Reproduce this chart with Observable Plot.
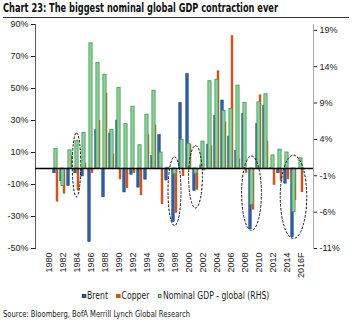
<!DOCTYPE html>
<html><head><meta charset="utf-8">
<script src="https://cdn.jsdelivr.net/npm/d3@7"></script>
<script src="https://cdn.jsdelivr.net/npm/@observablehq/plot@0.6"></script>
<style>
html,body{margin:0;padding:0;background:#fff;}
body{width:352px;height:323px;position:relative;overflow:hidden;font-family:"Liberation Sans Narrow","Arial Narrow","DejaVu Sans Condensed","DejaVu Sans",sans-serif;font-stretch:condensed;color:#222;}
#title{position:absolute;left:3px;top:1px;font-weight:bold;font-size:12px;line-height:14px;white-space:nowrap;color:#111;transform-origin:0 0;}
#rule{position:absolute;left:3px;top:17px;width:346px;height:1px;background:#333;}
#chart{position:absolute;left:0;top:20px;}
#legend{position:absolute;left:0;top:290px;width:352px;display:flex;justify-content:center;}
#legendInner{display:flex;align-items:center;font-size:10px;line-height:12px;white-space:nowrap;transform-origin:50% 50%;}
.item{display:flex;align-items:center;margin:0 5px;}
.sw{width:4.5px;height:4.5px;margin-right:1.5px;box-sizing:border-box;}
#source{position:absolute;left:3px;top:308px;font-size:9.5px;line-height:12px;white-space:nowrap;transform-origin:0 0;}
</style></head>
<body>
<div id="title">Chart 23: The biggest nominal global GDP contraction ever</div>
<div id="rule"></div>
<div id="chart"></div>
<div id="legend"><div id="legendInner"></div></div>
<div id="source">Source: Bloomberg, BofA Merrill Lynch Global Research</div>
<script>
// categories
const years = ["1980","1981","1982","1983","1984","1985","1986","1987","1988","1989",
  "1990","1991","1992","1993","1994","1995","1996","1997","1998","1999",
  "2000","2001","2002","2003","2004","2005","2006","2007","2008","2009",
  "2010","2011","2012","2013","2014","2015","2016F"];
// Brent, % y/y (left axis)
const brent = [null,-3,-8,-11,-3,-5,-46,24,-18,22,
  30,-15,-4,-12,-7,8,21,-7.5,-33.5,41,
  59,-14,2,15,33,42.5,20,11,34,-38,
  28,39,0.4,-3,-9.5,-43,0];
// Copper, % y/y (left axis)
const copper = [null,-21,-16,8,-14,3,-3,30,47,9,
  -7,-12.5,-3,-17,21,27,-22.5,-1,-28,-5,
  15,-13.5,-1.5,14,61,29,83,6,-3,-26,
  46,17,-10.5,-8,-7,-20,-15];
// Nominal GDP - global, % y/y (right axis)
const gdp = [null,2.7,-2.4,2.5,3.8,4.9,17.2,14.5,12.9,5.3,
  11.1,6.1,8.5,3.2,7.4,10.7,2.2,0.1,-0.8,3.9,
  3.4,-0.7,3.7,12.0,12.2,7.9,8.2,11.4,9.0,-5.0,
  9.1,10.2,1.8,2.6,2.2,-6.0,1.4];
// tick labels
const leftTicks = [-50,-30,-10,10,30,50,70,90];
const rightTicks = [-11,-6,-1,4,9,14,19];
const labelYears = ["1980","1982","1984","1986","1988","1990","1992","1994","1996","1998",
  "2000","2002","2004","2006","2008","2010","2012","2014","2016F"];
// highlighted contraction episodes (dashed ellipses), extents in left-axis %
const ellYears = ["1984","1998","2001","2009","2015"];
const ellTop = [22,7,14,7.5,8];
const ellBottom = [-18,-36,-25,-39,-44];
const ellSpan = [1.2,1.8,1.9,2.7,3.6]; // width in years

const series = ["Brent","Copper","Nominal GDP - global (RHS)"];

// right axis maps onto left: -11% <-> -50%, 0 <-> 0
const k = 50/11;
const rows = years.map((y,i)=>({year:y, brent:brent[i], copper:copper[i], gdp: gdp[i]==null?null:gdp[i]*k}));
const ells = ellYears.map((y,i)=>({year:y, top:ellTop[i], bottom:ellBottom[i], span:ellSpan[i]}));

const W=352, H=265, mL=35, mR=39, mT=4, mB=37;
const bw = (W-mL-mR)/years.length;

const colors = {brent:"#2d5ea8", brentStroke:"#1c3d75", copper:"#c9571e", gdp:"#8fd19c", gdpStroke:"#3e9a52"};

const ellMarks = ells.map(e => Plot.barY([e], {
  x:"year", y1:"bottom", y2:"top",
  insetLeft: -(e.span-1)*bw/2, insetRight: -(e.span-1)*bw/2,
  rx: 60, ry: 200, fill:"none", stroke:"#111", strokeWidth:1, strokeDasharray:"2.5,1.5"
}));

const chart = Plot.plot({
  width:W, height:H, marginTop:mT, marginBottom:mB, marginLeft:mL, marginRight:mR,
  x:{type:"band", domain:years, padding:0, axis:null},
  y:{domain:[-50,90], axis:null},
  style:{fontFamily:"'Liberation Sans', Arial, sans-serif", fontSize:"9px", color:"#222", background:"white"},
  marks:[
    Plot.frame({anchor:"left", stroke:"#555"}),
    Plot.frame({anchor:"right", stroke:"#aaa"}),
    Plot.axisY(leftTicks, {anchor:"left", tickSize:4, tickPadding:3, tickFormat:d=>d+"%", label:null}),
    Plot.axisY(rightTicks.map(v=>v*k), {anchor:"right", tickSize:3, tickPadding:3, tickFormat:d=>Math.round(d/k)+"%", label:null}),
    Plot.axisX(labelYears, {anchor:"bottom", tickSize:0, tickRotate:-90, tickPadding:4, label:null}),
    Plot.barY(rows, {x:"year", y:"brent", fill:colors.brent, stroke:colors.brentStroke, strokeWidth:0.5, insetLeft:0.75, insetRight:bw/2}),
    Plot.barY(rows, {x:"year", y:"copper", fill:colors.copper, insetLeft:bw/2, insetRight:0.75}),
    Plot.barY(rows, {x:"year", y:"gdp", fill:colors.gdp, stroke:colors.gdpStroke, strokeWidth:0.8, insetLeft:1.9, insetRight:1.9}),
    Plot.ruleY([0], {stroke:"#000", strokeWidth:1.5}),
    ...ellMarks
  ]
});
document.getElementById("chart").appendChild(chart);

const swatch = [
  {bg:colors.brent, border:colors.brentStroke},
  {bg:colors.copper, border:colors.copper},
  {bg:colors.gdp, border:colors.gdpStroke}
];
const leg = document.getElementById("legendInner");
series.forEach((s,i)=>{
  const it = document.createElement("div"); it.className="item";
  const sw = document.createElement("div"); sw.className="sw";
  sw.style.background = swatch[i].bg; sw.style.border = "0.8px solid "+swatch[i].border;
  const t = document.createElement("span"); t.textContent = s;
  it.appendChild(sw); it.appendChild(t); leg.appendChild(it);
});

// fit condensed text widths to the reference layout
function fitWidth(el, target){
  const w = el.getBoundingClientRect().width;
  if (w > 0) el.style.transform = "scaleX(" + (target/w) + ")";
}
fitWidth(document.getElementById("title"), 275);
fitWidth(leg, 196);
fitWidth(document.getElementById("source"), 187);
</script>
</body></html>
